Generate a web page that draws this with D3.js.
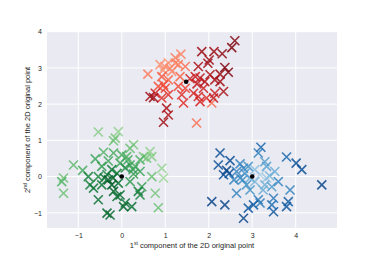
<!DOCTYPE html>
<html>
<head>
<meta charset="utf-8">
<script src="https://cdn.jsdelivr.net/npm/d3@7"></script>
<style>
  body { margin: 0; background: #fff; }
  svg { display: block; font-family: "Liberation Sans", Arial, sans-serif; }
</style>
</head>
<body>
<svg id="chart" width="374" height="257"></svg>
<script>
// cluster points: [x, y, shade] shade 0 = light, 1 = dark
const redPoints = [
  [2.60, 3.75, 1], [2.53, 3.56, 1], [1.84, 3.45, 0.9], [2.12, 3.45, 0.9], [2.31, 3.39, 0.95],
  [1.36, 3.38, 0.2], [2.01, 3.22, 0.9], [1.98, 3.13, 0.9], [1.76, 3.04, 0.85], [2.37, 3.01, 1],
  [2.45, 2.88, 1], [2.26, 2.83, 0.9], [2.03, 2.81, 0.85], [0.60, 2.83, 0.25], [0.88, 3.09, 0.15],
  [0.99, 3.04, 0.15], [1.11, 2.99, 0.2], [1.23, 3.13, 0.2], [1.30, 3.09, 0.25], [1.46, 3.04, 0.3],
  [1.15, 2.90, 0.2], [0.92, 2.76, 0.4], [1.34, 2.76, 0.35], [1.07, 2.67, 0.35], [1.69, 2.76, 0.7],
  [1.80, 2.72, 0.75], [1.91, 2.62, 0.8], [2.14, 2.67, 0.85], [2.26, 2.62, 0.9], [0.84, 2.49, 0.45],
  [1.00, 2.44, 0.5], [1.30, 2.49, 0.45], [1.46, 2.44, 0.5], [1.88, 2.44, 0.7], [1.65, 2.30, 0.65],
  [0.77, 2.30, 0.7], [1.07, 2.26, 0.6], [1.38, 2.26, 0.6], [2.14, 2.30, 0.7], [2.34, 2.35, 0.85],
  [0.65, 2.21, 0.9], [0.92, 2.17, 0.6], [1.76, 2.21, 0.65], [1.95, 2.17, 0.6], [2.11, 2.17, 0.75],
  [1.42, 2.03, 0.6], [2.07, 2.03, 0.3], [1.80, 2.07, 0.65], [1.03, 1.89, 0.85], [1.07, 1.70, 0.85],
  [0.96, 1.50, 0.9], [1.72, 1.48, 0.3], [0.96, 2.53, 0.45], [0.73, 2.18, 0.9], [1.07, 3.14, 0.1],
  [0.95, 2.94, 0.15], [1.23, 3.28, 0.25], [1.57, 2.70, 0.7], [1.73, 2.56, 0.75]
];
const greenPoints = [
  [-0.54, 1.23, 0.25], [-0.08, 1.24, 0.2], [-0.15, 1.06, 0.3], [-0.19, 0.99, 0.35], [0.27, 0.88, 0.3],
  [0.19, 0.78, 0.35], [0.65, 0.69, 0.2], [0.50, 0.55, 0.3], [0.69, 0.55, 0.25], [0.57, 0.51, 0.3],
  [-0.42, 0.67, 0.45], [-0.19, 0.65, 0.5], [0.00, 0.60, 0.5], [0.11, 0.55, 0.45], [-0.61, 0.49, 0.55],
  [-0.31, 0.43, 0.55], [-1.11, 0.32, 0.4], [-0.90, 0.17, 0.5], [-0.46, 0.28, 0.6], [-0.04, 0.37, 0.55],
  [0.19, 0.32, 0.55], [0.31, 0.28, 0.5], [0.92, 0.23, 0.2], [0.96, -0.04, 0.15], [0.69, 0.00, 0.35],
  [0.42, 0.14, 0.55], [0.27, 0.07, 0.6], [-0.23, 0.19, 0.8], [-0.11, 0.09, 0.8], [-0.34, 0.05, 0.75],
  [-0.54, 0.00, 0.7], [-1.34, -0.04, 0.35], [-1.38, -0.14, 0.45], [-0.73, -0.23, 0.75], [-0.46, -0.23, 0.8],
  [-0.23, -0.23, 0.95], [-0.08, -0.18, 0.85], [0.19, -0.14, 0.6], [0.46, -0.28, 0.6], [0.38, -0.41, 0.8],
  [0.42, -0.51, 0.75], [0.77, -0.46, 0.3], [-1.34, -0.46, 0.35], [-0.65, -0.32, 0.8], [-0.19, -0.41, 0.9],
  [-0.04, -0.51, 0.9], [-0.11, -0.55, 0.85], [-0.54, -0.64, 0.85], [0.08, -0.73, 0.85], [0.23, -0.83, 0.85],
  [0.84, -0.86, 0.35], [-0.34, -1.01, 0.9], [-0.27, -1.06, 0.9], [0.04, -0.83, 0.9], [-0.31, -0.09, 0.95],
  [-0.40, -0.04, 0.85], [-0.20, -0.04, 0.9], [0.08, 0.24, 0.7], [0.26, 0.19, 0.55], [0.42, 0.46, 0.45],
  [0.14, 0.46, 0.5], [-0.77, 0.00, 0.75]
];
const bluePoints = [
  [3.20, 0.81, 0.75], [3.14, 0.65, 0.6], [2.26, 0.65, 0.9], [3.79, 0.54, 0.75], [4.01, 0.37, 0.9],
  [4.14, 0.19, 0.9], [2.22, 0.32, 0.9], [2.49, 0.44, 0.9], [2.41, 0.17, 0.95], [2.34, 0.05, 0.9],
  [2.47, 0.09, 0.85], [2.72, 0.35, 0.6], [2.80, 0.23, 0.55], [2.91, 0.28, 0.5], [2.64, 0.14, 0.6],
  [3.29, 0.41, 0.45], [3.33, 0.28, 0.4], [3.52, 0.14, 0.35], [3.60, -0.14, 0.55], [3.18, 0.05, 0.05],
  [3.33, -0.04, 0.15], [3.06, -0.14, 0.25], [3.29, -0.23, 0.3], [2.87, -0.23, 0.5], [2.72, -0.04, 0.55],
  [3.45, -0.28, 0.45], [3.87, -0.37, 0.6], [4.60, -0.23, 0.95], [2.64, -0.46, 0.6], [3.14, -0.64, 0.65],
  [3.49, -0.60, 0.65], [3.83, -0.69, 0.8], [2.07, -0.69, 0.95], [2.37, -0.78, 0.95], [2.91, -0.87, 0.85],
  [3.03, -0.78, 0.8], [3.45, -0.78, 0.7], [3.49, -0.97, 0.85], [3.79, -0.83, 0.85], [2.80, -1.15, 0.95],
  [3.18, -0.73, 0.65], [2.83, 0.09, 0.45], [3.25, -0.37, 0.35], [2.95, -0.37, 0.5], [3.06, 0.19, 0.2],
  [3.40, 0.02, 0.25], [2.95, -0.04, 0.35], [2.78, -0.09, 0.5], [2.58, -0.09, 0.6]
];
const centers = [[0, 0], [1.48, 2.62], [3, 0]];
const xTicks = [-1, 0, 1, 2, 3, 4];
const yTicks = [-1, 0, 1, 2, 3, 4];

const svg = d3.select("#chart"),
    margin = {top: 31.7, right: 37, bottom: 29, left: 47},
    width = 374 - margin.left - margin.right,
    height = 257 - margin.top - margin.bottom,
    g = svg.append("g").attr("transform", "translate(" + margin.left + "," + margin.top + ")");

const xScale = d3.scaleLinear().domain([-1.72, 4.95]).range([0, width]);
const yScale = d3.scaleLinear().domain([-1.42, 4.0]).range([height, 0]);

g.append("rect").attr("width", width).attr("height", height).attr("fill", "#eaeaf2");

// grid
g.append("g").selectAll("line").data(xTicks).enter().append("line")
    .attr("x1", d => xScale(d)).attr("x2", d => xScale(d))
    .attr("y1", 0).attr("y2", height)
    .attr("stroke", "#fff").attr("stroke-width", 1);
g.append("g").selectAll("line").data(yTicks).enter().append("line")
    .attr("y1", d => yScale(d)).attr("y2", d => yScale(d))
    .attr("x1", 0).attr("x2", width)
    .attr("stroke", "#fff").attr("stroke-width", 1);

// axes (no lines, just labels)
const xAxis = g.append("g").attr("transform", `translate(0, ${height})`)
    .call(d3.axisBottom(xScale).tickValues(xTicks).tickSize(0).tickPadding(5).tickFormat(d3.format("d")));
const yAxis = g.append("g")
    .call(d3.axisLeft(yScale).tickValues(yTicks).tickSize(0).tickPadding(5).tickFormat(d3.format("d")));
[xAxis, yAxis].forEach(a => {
    a.select(".domain").remove();
    a.selectAll("text").attr("fill", "#262626").style("font-size", "7px")
        .style("font-family", '"Liberation Sans", Arial, sans-serif');
});

const r = 4.5;
function drawCluster(data, interp) {
    const col = s => interp(0.28 + 0.67 * s);
    const sorted = data.slice().sort((a, b) => a[2] - b[2]);
    g.append("g").selectAll("path").data(sorted).enter().append("path")
        .attr("d", d => {
            const x = xScale(d[0]), y = yScale(d[1]);
            return `M${x - r},${y - r}L${x + r},${y + r}M${x - r},${y + r}L${x + r},${y - r}`;
        })
        .attr("stroke", d => col(d[2]))
        .attr("stroke-width", 1.6)
        .attr("fill", "none")
        .attr("opacity", 0.85);
}
drawCluster(greenPoints, d3.interpolateGreens);
drawCluster(redPoints, d3.interpolateReds);
drawCluster(bluePoints, d3.interpolateBlues);

g.append("g").selectAll("circle").data(centers).enter().append("circle")
    .attr("cx", d => xScale(d[0])).attr("cy", d => yScale(d[1]))
    .attr("r", 2.3).attr("fill", "#000");

// axis labels
const xl = svg.append("text")
    .attr("x", margin.left + width / 2).attr("y", 248)
    .attr("text-anchor", "middle").attr("fill", "#262626").style("font-size", "7.5px");
xl.append("tspan").text("1");
xl.append("tspan").text("st").attr("dy", -3).style("font-size", "5px");
xl.append("tspan").text(" component of the 2D original point").attr("dy", 3);

const yl = svg.append("text")
    .attr("transform", `translate(30, ${margin.top + height / 2}) rotate(-90)`)
    .attr("text-anchor", "middle").attr("fill", "#262626").style("font-size", "7.5px");
yl.append("tspan").text("2");
yl.append("tspan").text("nd").attr("dy", -3).style("font-size", "5px");
yl.append("tspan").text(" component of the 2D original point").attr("dy", 3);
</script>
</body>
</html>
